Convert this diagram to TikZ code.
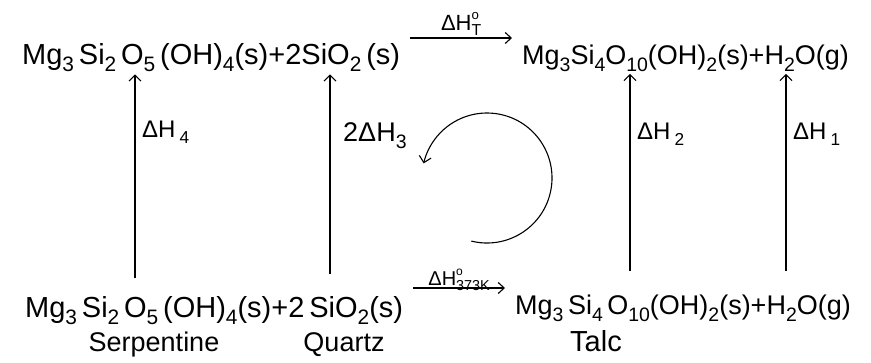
\documentclass[tikz,border=0pt]{standalone}
\usepackage{fontspec}
\setmainfont{Liberation Sans}
\usetikzlibrary{arrows.meta}
\newcommand\csub[1]{\raisebox{-0.45ex}{\scalebox{0.72}{#1}}}
\newcommand\csup[1]{\raisebox{0.95ex}{\scalebox{0.6}{#1}}}
\newcommand\stk[2]{\rlap{\csup{#1}}\csub{#2}}
\begin{document}
\begin{tikzpicture}[x=1pt,y=-1pt,
  chem/.style={font=\fontsize{29}{34}\selectfont, inner sep=2pt, anchor=base west},
  chemr/.style={chem, font=\fontsize{27}{32}\selectfont},
  mineral/.style={font=\fontsize{27}{30}\selectfont, inner sep=0pt, anchor=base},
  lab/.style={font=\fontsize{24}{28}\selectfont, inner sep=0pt, anchor=base west},
  arr/.style={-{Straight Barb[length=6pt,width=12pt]}, line width=1.1pt},
  harr/.style={-{Straight Barb[length=6pt,width=11pt]}, line width=1.1pt}]
\useasboundingbox (0,0) rectangle (871,363);
% equations
\node[chem] (TL) at (20,65) {Mg\csub{3}\,Si\csub{2}\,O\csub{5}\,(OH)\csub{4}(s)+2SiO\csub{2}\,(s)};
\node[chemr] (TR) at (520,65) {Mg\csub{3}Si\csub{4}O\csub{10}(OH)\csub{2}(s)+H\csub{2}O(g)};
\node[chem] (BL) at (23,318) {Mg\csub{3}\,Si\csub{2}\,O\csub{5}\,(OH)\csub{4}(s)+2\,SiO\csub{2}(s)};
\node[chemr] (BR) at (513,315) {Mg\csub{3}\,Si\csub{4}\,O\csub{10}(OH)\csub{2}(s)+H\csub{2}O(g)};
% mineral names
\node[mineral] (serp) at (154,352) {Serpentine};
\node[mineral] (quartz) at (344,352) {Quartz};
\node[mineral, font=\fontsize{29}{32}\selectfont] (talc) at (596,352) {Talc};
% horizontal reaction arrows
\coordinate (ty) at (0,38);
\coordinate (by) at (0,288);
\draw[harr, shorten <=8pt, shorten >=8pt] (TL.east |- ty) -- (TR.west |- ty)
  node[midway, above=1pt, font=\fontsize{22}{24}\selectfont, inner sep=1pt] (hT) {ΔH\stk{o}{T}};
\draw[harr, shorten <=8pt, shorten >=8pt] (BL.east |- by) -- (BR.west |- by)
  node[midway, above=-4pt, font=\fontsize{20}{22}\selectfont, inner sep=1pt] (h373) {ΔH\stk{o}{373K}};
% vertical arrows
\coordinate (x4) at (135,0);
\coordinate (x3) at (330,0);
\coordinate (x2) at (630,0);
\coordinate (x1) at (786,0);
\draw[arr, shorten <=17pt] (BL.north -| x4) -- (TL.south -| x4);
\draw[arr, shorten <=21pt] (BL.north -| x3) -- (TL.south -| x3);
\draw[arr, shorten <=22pt] (BR.north -| x2) -- (TR.south -| x2);
\draw[arr, shorten <=22pt] (BR.north -| x1) -- (TR.south -| x1);
% labels
\node[lab] (l4) at (142,138) {ΔH\,\csub{4}};
\node[lab, font=\fontsize{27}{30}\selectfont] (l3) at (343,142) {2ΔH\csub{3}};
\node[lab] (l2) at (637,140) {ΔH\,\csub{2}};
\node[lab] (l1) at (793,140) {ΔH\,\csub{1}};
% cyclic arrow
\coordinate (cc) at (487,178);
\draw[arr] (cc) ++(104:65) arc[start angle=104, end angle=-167, radius=65];
\end{tikzpicture}
\end{document}
